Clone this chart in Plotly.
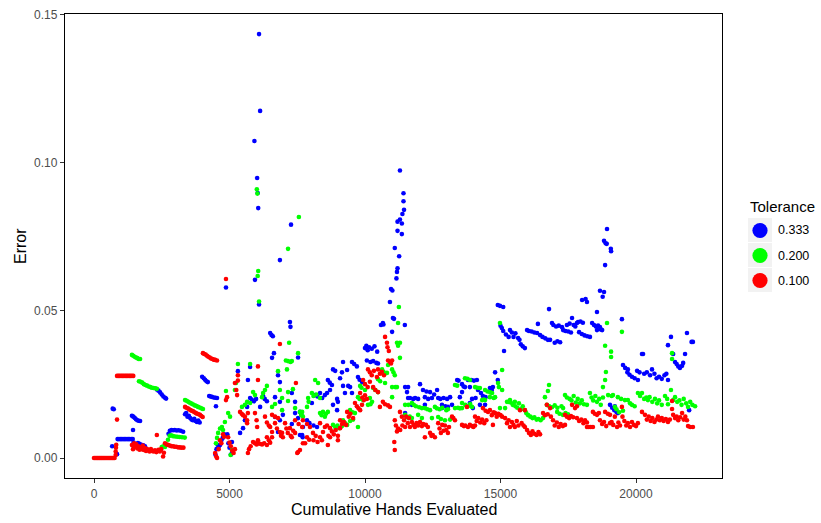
import plotly.graph_objects as go

# Error vs. cumulative hands evaluated, one series per tolerance level.
tolerance_labels = ["0.333", "0.200", "0.100"]
tolerance_colors = ["#0000FF", "#00FF00", "#FF0000"]

tol_333 = [
    (670, 0.0040), (690, 0.0167), (730, 0.0165), (850, 0.0013),
    (870, 0.0064), (920, 0.0064), (970, 0.0064), (1020, 0.0064), (1070, 0.0064), (1120, 0.0064),
    (1170, 0.0064), (1220, 0.0064), (1270, 0.0064), (1320, 0.0064), (1380, 0.0064), (1430, 0.0064),
    (1400, 0.0143), (1450, 0.0140), (1500, 0.0136), (1550, 0.0131), (1600, 0.0128), (1650, 0.0126), (1700, 0.0125),
    (1440, 0.0095), (1460, 0.0052), (1620, 0.0051), (1680, 0.0048), (1750, 0.0045), (1820, 0.0043), (1880, 0.0040),
    (2320, 0.0232), (2380, 0.0228), (2440, 0.0222), (2500, 0.0215), (2560, 0.0208), (2620, 0.0204), (2660, 0.0201),
    (2750, 0.0082), (2800, 0.0092), (2860, 0.0095), (2920, 0.0094), (2980, 0.0095), (3050, 0.0093), (3120, 0.0094),
    (3200, 0.0092), (3290, 0.0089),
    (3360, 0.0148), (3400, 0.0152), (3450, 0.0140), (3500, 0.0143), (3550, 0.0135), (3600, 0.0130), (3650, 0.0128),
    (3700, 0.0133), (3750, 0.0125), (3800, 0.0122), (3850, 0.0127), (3900, 0.0120),
    (3990, 0.0275), (4050, 0.0270), (4100, 0.0265), (4150, 0.0260), (4200, 0.0257),
    (4250, 0.0210), (4300, 0.0208), (4350, 0.0207), (4420, 0.0205), (4480, 0.0204), (4540, 0.0203), (4500, 0.0175),
    (4480, 0.0012), (4520, 0.0030), (4560, 0.0045), (4600, 0.0038), (4650, 0.0044), (4700, 0.0060), (4750, 0.0068),
    (4800, 0.0080), (4850, 0.0077), (4920, 0.0080), (4960, 0.0050), (5000, 0.0035), (5050, 0.0012), (5100, 0.0020),
    (5090, 0.0054), (4870, 0.0577),
    (5310, 0.0294), (5390, 0.0085), (5500, 0.0101), (5570, 0.0128), (5650, 0.0173), (5680, 0.0264), (5760, 0.0308),
    (5760, 0.0203), (5820, 0.0198), (5900, 0.0192), (5980, 0.0200),
    (5920, 0.1073), (5940, 0.0603), (6020, 0.0948), (6040, 0.0897), (6060, 0.0846), (6090, 0.1435), (6130, 0.1175),
    (6090, 0.0520),
    (6130, 0.0173), (6240, 0.0210), (6300, 0.0200), (6380, 0.0192), (6500, 0.0423), (6550, 0.0416), (6600, 0.0412),
    (6570, 0.0339), (6640, 0.0355),
    (6680, 0.0206), (6680, 0.0139), (6790, 0.0280), (6790, 0.0088), (6860, 0.0670), (6860, 0.0257), (6860, 0.0190),
    (6860, 0.0128), (6970, 0.0146),
    (7230, 0.0460), (7250, 0.0444), (7270, 0.0790), (7300, 0.0220), (7300, 0.0115), (7420, 0.0190), (7420, 0.0152),
    (7530, 0.0340), (7530, 0.0135), (7680, 0.0078),
    (7600, 0.0156), (7650, 0.0146), (7600, 0.0078), (7700, 0.0070), (7710, 0.0105), (7860, 0.0128), (7950, 0.0118),
    (8040, 0.0186), (8100, 0.0110), (8230, 0.0105),
    (8160, 0.0213), (8250, 0.0208), (8340, 0.0220), (8420, 0.0203), (8520, 0.0213), (8600, 0.0220), (8630, 0.0264),
    (8700, 0.0255), (8710, 0.0230), (8780, 0.0247),
    (8820, 0.0300), (8820, 0.0180), (8900, 0.0295), (8970, 0.0200), (8970, 0.0162), (9000, 0.0190), (9080, 0.0270),
    (9150, 0.0290), (9190, 0.0325), (9190, 0.0244), (9260, 0.0220), (9340, 0.0298), (9380, 0.0244), (9450, 0.0240),
    (9520, 0.0220), (9520, 0.0325), (9600, 0.0318), (9700, 0.0310),
    (9740, 0.0274), (9800, 0.0265), (9890, 0.0257), (10000, 0.0372), (10050, 0.0380), (10070, 0.0330),
    (10100, 0.0365), (10150, 0.0375), (10200, 0.0325), (10250, 0.0370), (10300, 0.0328), (10350, 0.0378),
    (10420, 0.0322), (10450, 0.0360), (10480, 0.0320),
    (10590, 0.0450), (10660, 0.0457), (10680, 0.0452), (10920, 0.0528), (10960, 0.0572), (11000, 0.0427),
    (11010, 0.0567), (11030, 0.0474), (11070, 0.0471), (11100, 0.0711),
    (11160, 0.0608), (11180, 0.0630), (11200, 0.0642), (11200, 0.0769), (11200, 0.0800), (11260, 0.0683),
    (11290, 0.0973), (11290, 0.0807), (11360, 0.0794), (11360, 0.0758), (11380, 0.0826), (11420, 0.0896),
    (11420, 0.0869), (11440, 0.0840), (11470, 0.0450),
    (11480, 0.0240), (11550, 0.0223), (11590, 0.0240), (11480, 0.0152), (11590, 0.0203), (11660, 0.0203),
    (11730, 0.0180), (11780, 0.0200), (11850, 0.0203), (11960, 0.0200), (12030, 0.0250),
    (12140, 0.0230), (12210, 0.0206), (12210, 0.0180), (12270, 0.0225), (12330, 0.0200), (12400, 0.0223),
    (12470, 0.0203), (12550, 0.0215), (12660, 0.0230), (12700, 0.0203), (12780, 0.0200), (12840, 0.0180),
    (12840, 0.0169), (12900, 0.0203), (12960, 0.0175), (13030, 0.0200), (13060, 0.0173), (13140, 0.0206),
    (13210, 0.0180),
    (13400, 0.0264), (13450, 0.0262), (13500, 0.0206), (13580, 0.0250), (13580, 0.0223), (13640, 0.0242),
    (13690, 0.0240), (13800, 0.0264), (13870, 0.0240), (13870, 0.0186), (13920, 0.0264), (13950, 0.0200),
    (13980, 0.0169), (14020, 0.0262), (14080, 0.0203), (14130, 0.0264), (14170, 0.0230), (14240, 0.0180),
    (14280, 0.0220), (14350, 0.0210), (14430, 0.0180), (14450, 0.0206), (14610, 0.0237), (14680, 0.0230),
    (14720, 0.0240), (14800, 0.0290), (14900, 0.0264),
    (14900, 0.0518), (14980, 0.0515), (15100, 0.0511),
    (15000, 0.0448), (15050, 0.0440), (15100, 0.0430), (15130, 0.0362), (15200, 0.0418), (15300, 0.0410),
    (15350, 0.0433), (15420, 0.0425), (15480, 0.0410), (15550, 0.0422), (15650, 0.0406), (15700, 0.0400),
    (15750, 0.0385), (15820, 0.0378), (15900, 0.0372), (15980, 0.0433), (16050, 0.0430), (16150, 0.0428),
    (16250, 0.0425), (16350, 0.0423), (16380, 0.0454),
    (16460, 0.0416), (16550, 0.0410), (16650, 0.0405), (16750, 0.0400), (16790, 0.0504), (16830, 0.0400),
    (16900, 0.0457), (16950, 0.0450), (17000, 0.0390), (17050, 0.0445), (17100, 0.0395), (17150, 0.0448),
    (17200, 0.0392), (17270, 0.0443),
    (17310, 0.0433), (17400, 0.0430), (17450, 0.0450), (17500, 0.0428), (17550, 0.0455), (17600, 0.0425),
    (17640, 0.0474), (17700, 0.0450), (17760, 0.0445), (17820, 0.0457), (17860, 0.0460), (17900, 0.0426),
    (17950, 0.0462), (18000, 0.0420), (18010, 0.0535), (18040, 0.0458), (18100, 0.0415), (18140, 0.0538),
    (18190, 0.0528), (18200, 0.0412), (18300, 0.0410),
    (18380, 0.0457), (18450, 0.0450), (18520, 0.0445), (18560, 0.0494), (18560, 0.0433), (18600, 0.0448),
    (18670, 0.0443), (18670, 0.0566), (18700, 0.0435), (18750, 0.0433), (18770, 0.0546), (18820, 0.0562),
    (18820, 0.0735), (18860, 0.0653), (18880, 0.0727), (18920, 0.0725), (18930, 0.0775), (19070, 0.0708),
    (19080, 0.0700),
    (19040, 0.0180), (19120, 0.0170), (19200, 0.0162), (19280, 0.0156), (19330, 0.0152), (19220, 0.0175),
    (19480, 0.0470), (19520, 0.0315), (19600, 0.0305), (19680, 0.0290), (19700, 0.0300), (19760, 0.0282),
    (19850, 0.0275), (19950, 0.0270), (20070, 0.0264), (20040, 0.0295), (20130, 0.0290), (20220, 0.0352),
    (20260, 0.0352), (20300, 0.0285), (20400, 0.0290), (20520, 0.0280),
    (20590, 0.0300), (20680, 0.0285), (20760, 0.0270), (20850, 0.0275), (20950, 0.0268), (21050, 0.0280),
    (21120, 0.0285), (21180, 0.0264), (21180, 0.0382), (21290, 0.0410), (21370, 0.0352), (21440, 0.0325),
    (21500, 0.0318), (21560, 0.0310), (21620, 0.0305), (21700, 0.0312), (21740, 0.0322), (21810, 0.0352),
    (21880, 0.0423), (21960, 0.0162), (22050, 0.0393), (22100, 0.0393),
]

tol_200 = [
    (1400, 0.0349), (1450, 0.0346), (1500, 0.0343), (1550, 0.0340), (1600, 0.0338), (1650, 0.0335), (1700, 0.0335),
    (1660, 0.0260), (1720, 0.0258), (1780, 0.0255), (1840, 0.0250), (1900, 0.0247), (1960, 0.0245), (2020, 0.0242),
    (2080, 0.0240), (2140, 0.0238), (2200, 0.0237), (2260, 0.0236), (2320, 0.0234),
    (2500, 0.0037), (2560, 0.0040), (2620, 0.0037),
    (2730, 0.0062), (2790, 0.0075), (2850, 0.0077), (2920, 0.0074), (3000, 0.0073), (3080, 0.0072), (3160, 0.0071),
    (3250, 0.0070), (3350, 0.0069),
    (3360, 0.0196), (3420, 0.0194), (3480, 0.0190), (3540, 0.0187), (3600, 0.0184), (3660, 0.0181), (3720, 0.0178),
    (3780, 0.0176), (3840, 0.0173), (3900, 0.0171), (3960, 0.0168), (4020, 0.0166),
    (4500, 0.0050), (4540, 0.0068), (4580, 0.0085), (4650, 0.0100), (4720, 0.0105), (4760, 0.0095), (4830, 0.0122),
    (4870, 0.0227), (4950, 0.0152), (5020, 0.0140), (5090, 0.0027), (5040, 0.0010),
    (5200, 0.0230), (5240, 0.0254), (5310, 0.0318), (5460, 0.0173), (5570, 0.0180), (5650, 0.0190), (5760, 0.0318),
    (5760, 0.0186), (5870, 0.0223), (5940, 0.0213),
    (6010, 0.0910), (6030, 0.0895), (6060, 0.0633), (6040, 0.0616), (6090, 0.0530),
    (6200, 0.0206), (6240, 0.0220), (6310, 0.0230), (6380, 0.0244), (6570, 0.0173), (6680, 0.0183), (6790, 0.0294),
    (6860, 0.0230), (6940, 0.0203), (6940, 0.0162),
    (7080, 0.0330), (7120, 0.0300), (7160, 0.0328), (7160, 0.0708), (7160, 0.0223), (7160, 0.0193), (7200, 0.0390),
    (7250, 0.0325), (7300, 0.0328), (7340, 0.0233), (7420, 0.0169), (7530, 0.0355), (7560, 0.0816), (7680, 0.0156),
    (7600, 0.0156), (7650, 0.0145), (7710, 0.0140), (7860, 0.0173), (7900, 0.0203), (7920, 0.0190), (8040, 0.0220),
    (8100, 0.0210), (8160, 0.0264), (8200, 0.0215), (8270, 0.0254), (8340, 0.0203), (8340, 0.0152), (8400, 0.0145),
    (8450, 0.0156), (8520, 0.0140), (8560, 0.0150), (8630, 0.0156),
    (8820, 0.0112), (8900, 0.0105), (8980, 0.0110), (9050, 0.0101), (9150, 0.0108), (9190, 0.0128), (9260, 0.0118),
    (9340, 0.0112), (9450, 0.0125), (9450, 0.0162), (9540, 0.0155), (9560, 0.0130), (9630, 0.0152), (9740, 0.0105),
    (9740, 0.0206), (9800, 0.0200), (9820, 0.0244), (9870, 0.0238), (9930, 0.0196), (10000, 0.0230),
    (10110, 0.0180), (10180, 0.0203), (10200, 0.0182), (10260, 0.0190), (10300, 0.0237), (10380, 0.0230),
    (10480, 0.0223), (10480, 0.0267), (10560, 0.0260), (10630, 0.0300), (10680, 0.0292), (10740, 0.0254),
    (10810, 0.0288), (10850, 0.0315),
    (11000, 0.0300), (11000, 0.0240), (11000, 0.0206), (11050, 0.0290), (11100, 0.0280), (11120, 0.0240),
    (11180, 0.0390), (11180, 0.0240), (11220, 0.0380), (11220, 0.0457), (11250, 0.0511), (11290, 0.0390),
    (11290, 0.0339),
    (11480, 0.0146), (11480, 0.0180), (11550, 0.0138), (11600, 0.0180), (11650, 0.0140), (11730, 0.0135),
    (11730, 0.0186), (11800, 0.0180), (11880, 0.0175), (11960, 0.0146), (12000, 0.0172), (12100, 0.0169),
    (12100, 0.0135),
    (12210, 0.0169), (12300, 0.0165), (12400, 0.0162), (12470, 0.0135), (12580, 0.0173), (12650, 0.0168),
    (12700, 0.0139), (12750, 0.0165), (12800, 0.0132), (12850, 0.0170), (12950, 0.0128), (13000, 0.0162),
    (13060, 0.0165), (13140, 0.0130),
    (13320, 0.0247), (13320, 0.0169), (13400, 0.0245), (13430, 0.0170), (13500, 0.0168), (13580, 0.0186),
    (13580, 0.0169), (13690, 0.0270), (13700, 0.0180), (13780, 0.0268), (13800, 0.0175), (13870, 0.0264),
    (13880, 0.0183), (13950, 0.0173),
    (14060, 0.0240), (14150, 0.0238), (14240, 0.0237), (14320, 0.0196), (14380, 0.0198), (14430, 0.0230),
    (14430, 0.0196), (14520, 0.0225), (14610, 0.0206), (14620, 0.0222), (14690, 0.0220), (14750, 0.0203),
    (14800, 0.0206), (14910, 0.0254), (14940, 0.0240), (14980, 0.0457), (14980, 0.0169), (15060, 0.0298),
    (15060, 0.0230), (15170, 0.0169),
    (15240, 0.0190), (15300, 0.0190), (15350, 0.0196), (15380, 0.0188), (15450, 0.0180), (15530, 0.0190),
    (15550, 0.0175), (15620, 0.0170), (15680, 0.0185), (15750, 0.0165), (15820, 0.0175), (15900, 0.0162),
    (15950, 0.0152), (16020, 0.0145), (16100, 0.0140), (16180, 0.0135), (16250, 0.0138), (16330, 0.0130),
    (16400, 0.0132), (16480, 0.0128), (16570, 0.0135),
    (16640, 0.0206), (16710, 0.0180), (16750, 0.0227), (16790, 0.0247), (16800, 0.0175), (16900, 0.0172),
    (17000, 0.0178), (17100, 0.0170), (17090, 0.0156), (17180, 0.0150), (17250, 0.0175), (17300, 0.0146),
    (17310, 0.0169), (17400, 0.0152), (17490, 0.0148),
    (17380, 0.0213), (17450, 0.0205), (17550, 0.0200), (17620, 0.0195), (17700, 0.0210), (17780, 0.0188),
    (17850, 0.0200), (17930, 0.0185), (18000, 0.0195), (18080, 0.0182), (18190, 0.0180),
    (18300, 0.0220), (18360, 0.0205), (18420, 0.0195), (18500, 0.0210), (18560, 0.0190), (18640, 0.0200),
    (18700, 0.0180), (18780, 0.0240), (18780, 0.0205), (18860, 0.0264), (18860, 0.0380), (18890, 0.0291),
    (18930, 0.0457), (18970, 0.0213), (19080, 0.0360), (19080, 0.0342), (19100, 0.0210), (19150, 0.0213),
    (19220, 0.0173), (19280, 0.0165), (19330, 0.0206), (19380, 0.0155), (19450, 0.0200), (19480, 0.0427),
    (19520, 0.0160), (19590, 0.0196),
    (19700, 0.0196), (19780, 0.0185), (19850, 0.0180), (19950, 0.0175), (20070, 0.0220), (20150, 0.0210),
    (20220, 0.0220), (20300, 0.0200), (20380, 0.0205), (20440, 0.0196),
    (20500, 0.0206), (20600, 0.0190), (20700, 0.0200), (20780, 0.0185), (20850, 0.0195), (20950, 0.0180),
    (21070, 0.0210), (21150, 0.0200), (21180, 0.0182), (21290, 0.0230), (21330, 0.0355), (21330, 0.0335),
    (21370, 0.0196),
    (21440, 0.0206), (21520, 0.0190), (21600, 0.0195), (21680, 0.0180), (21760, 0.0200), (21850, 0.0185),
    (21920, 0.0173), (22000, 0.0190), (22080, 0.0180), (22180, 0.0175),
]

tol_100 = [
    (0, 0.0), (40, 0.0), (80, 0.0), (120, 0.0), (160, 0.0), (200, 0.0), (240, 0.0), (280, 0.0), (320, 0.0),
    (360, 0.0), (400, 0.0), (440, 0.0), (480, 0.0), (520, 0.0), (560, 0.0), (600, 0.0), (640, 0.0), (680, 0.0),
    (720, 0.0), (760, 0.0),
    (800, 0.0010), (800, 0.0022), (810, 0.0035), (820, 0.0045), (850, 0.0130),
    (850, 0.0278), (900, 0.0278), (950, 0.0278), (1000, 0.0278), (1050, 0.0278), (1100, 0.0278), (1150, 0.0278),
    (1200, 0.0278), (1250, 0.0278), (1300, 0.0278), (1350, 0.0278), (1400, 0.0278), (1450, 0.0278),
    (1400, 0.0044), (1440, 0.0030), (1480, 0.0050), (1520, 0.0038), (1560, 0.0046), (1600, 0.0032), (1640, 0.0040),
    (1680, 0.0028), (1720, 0.0036), (1760, 0.0030), (1800, 0.0042), (1840, 0.0027), (1880, 0.0034), (1920, 0.0024),
    (1960, 0.0030), (2000, 0.0026), (2050, 0.0022), (2100, 0.0030), (2150, 0.0024), (2200, 0.0022), (2250, 0.0026),
    (2300, 0.0020), (2320, 0.0078), (2380, 0.0028), (2430, 0.0022), (2480, 0.0030), (2550, 0.0005), (2580, 0.0018),
    (2620, 0.0050), (2680, 0.0046), (2740, 0.0044), (2800, 0.0042), (2860, 0.0040), (2920, 0.0040), (2980, 0.0038),
    (3040, 0.0038), (3100, 0.0036), (3160, 0.0036), (3220, 0.0035), (3300, 0.0035),
    (3360, 0.0173), (3410, 0.0170), (3460, 0.0168), (3510, 0.0165), (3560, 0.0162), (3610, 0.0160), (3660, 0.0158),
    (3710, 0.0155), (3760, 0.0152), (3810, 0.0150), (3860, 0.0148), (3910, 0.0146), (3960, 0.0142), (4010, 0.0139),
    (4020, 0.0355), (4070, 0.0352), (4120, 0.0350), (4170, 0.0346), (4220, 0.0343), (4270, 0.0340), (4320, 0.0337),
    (4370, 0.0335), (4420, 0.0333), (4470, 0.0332), (4540, 0.0330),
    (4470, 0.0017), (4510, 0.0005), (4540, 0.0000), (4600, 0.0030), (4650, 0.0060), (4700, 0.0050), (4760, 0.0080),
    (4800, 0.0072), (4870, 0.0606), (4870, 0.0196), (4910, 0.0206), (4950, 0.0070), (5000, 0.0052), (5050, 0.0040),
    (5100, 0.0025), (5150, 0.0017), (5200, 0.0030),
    (5200, 0.0254), (5250, 0.0230), (5280, 0.0213), (5310, 0.0280), (5310, 0.0262), (5390, 0.0156), (5450, 0.0150),
    (5500, 0.0145), (5570, 0.0140), (5650, 0.0128), (5650, 0.0118), (5680, 0.0152),
    (5680, 0.0017), (5720, 0.0030), (5780, 0.0040), (5870, 0.0054), (5940, 0.0050), (6000, 0.0046), (6050, 0.0060),
    (6050, 0.0050), (6120, 0.0048), (6200, 0.0046), (6280, 0.0050), (6380, 0.0044), (6380, 0.0070), (6450, 0.0060),
    (6500, 0.0052), (6570, 0.0070),
    (5940, 0.0152), (6000, 0.0128), (6020, 0.0105), (6050, 0.0310), (6050, 0.0264), (6310, 0.0140), (6380, 0.0120),
    (6450, 0.0110), (6500, 0.0105), (6570, 0.0088), (6570, 0.0146), (6680, 0.0140), (6680, 0.0118), (6750, 0.0100),
    (6790, 0.0135), (6860, 0.0386), (6860, 0.0088), (6900, 0.0075), (6940, 0.0085), (6970, 0.0070),
    (7050, 0.0118), (7100, 0.0100), (7150, 0.0085), (7230, 0.0101), (7260, 0.0075), (7300, 0.0070), (7350, 0.0092),
    (7420, 0.0085), (7420, 0.0128), (7450, 0.0254), (7500, 0.0017), (7530, 0.0020), (7550, 0.0115), (7680, 0.0105),
    (7600, 0.0027), (7710, 0.0050), (7710, 0.0128), (7790, 0.0050), (7860, 0.0070), (7860, 0.0115), (7940, 0.0062),
    (7970, 0.0105), (8080, 0.0085), (8100, 0.0060), (8180, 0.0075), (8250, 0.0054), (8340, 0.0118), (8340, 0.0070),
    (8410, 0.0060), (8450, 0.0088), (8520, 0.0105), (8600, 0.0110), (8630, 0.0044), (8650, 0.0075), (8710, 0.0070),
    (8710, 0.0101), (8780, 0.0090), (8850, 0.0080), (8920, 0.0095), (9000, 0.0060), (9000, 0.0075), (9080, 0.0101),
    (9080, 0.0128), (9150, 0.0115), (9220, 0.0122), (9300, 0.0112), (9340, 0.0156), (9400, 0.0140), (9460, 0.0150),
    (9560, 0.0135),
    (9630, 0.0186), (9700, 0.0175), (9760, 0.0168), (9820, 0.0162), (9890, 0.0180), (9820, 0.0220), (9900, 0.0205),
    (9960, 0.0196), (10000, 0.0212), (10070, 0.0200), (9930, 0.0264), (10000, 0.0250), (10100, 0.0240),
    (10180, 0.0258),
    (10110, 0.0300), (10180, 0.0290), (10250, 0.0280), (10300, 0.0240), (10330, 0.0295), (10380, 0.0230),
    (10440, 0.0274), (10480, 0.0300), (10480, 0.0223), (10550, 0.0173), (10550, 0.0285), (10620, 0.0292),
    (10660, 0.0190), (10700, 0.0280), (10740, 0.0410), (10740, 0.0182), (10810, 0.0390), (10830, 0.0375),
    (10850, 0.0330), (10850, 0.0178), (10880, 0.0362), (10920, 0.0173), (10920, 0.0325), (10960, 0.0320),
    (11000, 0.0330),
    (11080, 0.0054), (11100, 0.0027), (11100, 0.0128), (11140, 0.0110), (11180, 0.0090), (11220, 0.0100),
    (11290, 0.0156), (11300, 0.0095), (11360, 0.0140), (11380, 0.0110), (11440, 0.0128), (11480, 0.0105),
    (11520, 0.0140), (11580, 0.0118), (11620, 0.0135), (11660, 0.0105),
    (11730, 0.0122), (11790, 0.0112), (11840, 0.0105), (11900, 0.0118), (11960, 0.0110), (12030, 0.0122),
    (12100, 0.0108), (12150, 0.0115), (12210, 0.0070), (12250, 0.0112), (12320, 0.0105), (12400, 0.0085),
    (12450, 0.0075), (12500, 0.0078), (12580, 0.0070),
    (12700, 0.0118), (12750, 0.0100), (12800, 0.0085), (12850, 0.0112), (12900, 0.0092), (12950, 0.0110),
    (13000, 0.0095), (13060, 0.0085), (13100, 0.0105), (13210, 0.0140), (13260, 0.0135), (13320, 0.0128),
    (13580, 0.0112), (13650, 0.0108), (13700, 0.0110), (13760, 0.0173), (13800, 0.0105), (13870, 0.0112),
    (13950, 0.0108), (14000, 0.0105), (14060, 0.0110),
    (14060, 0.0140), (14120, 0.0125), (14180, 0.0135), (14250, 0.0120), (14320, 0.0130), (14350, 0.0169),
    (14400, 0.0118), (14450, 0.0160), (14480, 0.0128), (14540, 0.0156),
    (14610, 0.0162), (14680, 0.0145), (14720, 0.0112), (14750, 0.0155), (14800, 0.0152), (14860, 0.0140),
    (14920, 0.0150), (15000, 0.0145), (15060, 0.0140),
    (15170, 0.0135), (15240, 0.0118), (15300, 0.0128), (15350, 0.0105), (15420, 0.0122), (15480, 0.0112),
    (15530, 0.0105), (15600, 0.0125), (15660, 0.0110), (15720, 0.0162), (15780, 0.0118), (15850, 0.0110),
    (15900, 0.0162), (15900, 0.0105),
    (15980, 0.0095), (16050, 0.0085), (16120, 0.0078), (16180, 0.0090), (16250, 0.0082), (16330, 0.0078),
    (16400, 0.0088), (16460, 0.0080),
    (16570, 0.0152), (16640, 0.0145), (16710, 0.0180), (16740, 0.0148), (16830, 0.0169), (16860, 0.0140),
    (16940, 0.0128), (17000, 0.0110), (17080, 0.0120), (17150, 0.0105), (17220, 0.0115), (17300, 0.0108),
    (17380, 0.0146), (17380, 0.0112),
    (17450, 0.0140), (17530, 0.0135), (17600, 0.0142), (17640, 0.0180), (17680, 0.0138), (17750, 0.0169),
    (17820, 0.0175), (17820, 0.0135), (17900, 0.0125), (17980, 0.0130), (18060, 0.0118), (18120, 0.0128),
    (18190, 0.0120), (18190, 0.0105), (18260, 0.0105), (18330, 0.0105), (18410, 0.0105),
    (18410, 0.0156), (18480, 0.0150), (18560, 0.0146), (18630, 0.0152), (18670, 0.0128), (18750, 0.0115),
    (18820, 0.0122), (18860, 0.0156), (18900, 0.0108), (18960, 0.0150), (19040, 0.0146), (19040, 0.0118),
    (19100, 0.0122), (19160, 0.0112), (19220, 0.0140), (19300, 0.0105), (19350, 0.0120), (19410, 0.0110),
    (19480, 0.0173), (19500, 0.0140), (19570, 0.0125), (19640, 0.0110), (19700, 0.0118), (19780, 0.0105),
    (19850, 0.0122), (19920, 0.0112), (20000, 0.0108), (20070, 0.0118),
    (20220, 0.0156), (20330, 0.0146), (20400, 0.0130), (20470, 0.0140), (20540, 0.0125), (20600, 0.0135),
    (20680, 0.0122), (20750, 0.0130), (20810, 0.0140), (20880, 0.0128), (20950, 0.0135), (21020, 0.0125),
    (21100, 0.0132), (21180, 0.0122), (21250, 0.0130),
    (21330, 0.0166), (21330, 0.0193), (21370, 0.0146), (21440, 0.0135), (21500, 0.0140), (21560, 0.0128),
    (21630, 0.0138), (21700, 0.0152), (21760, 0.0130), (21820, 0.0140), (21880, 0.0128), (21920, 0.0108),
    (22000, 0.0105), (22100, 0.0105),
]

x_ticks = [0, 5000, 10000, 15000, 20000]
y_ticks = [0.00, 0.05, 0.10, 0.15]

series = [tol_333, tol_200, tol_100]

fig = go.Figure()
for label, color, pts in zip(tolerance_labels, tolerance_colors, series):
    fig.add_trace(go.Scatter(
        x=[p[0] for p in pts],
        y=[p[1] for p in pts],
        mode="markers",
        name=label,
        marker=dict(color=color, size=4.6, line=dict(width=0)),
        showlegend=False,
    ))

W, H = 821, 523
L, R, T, B = 65, 722, 14, 478
pw, ph = R - L, B - T


def px_x(px):
    return (px - L) / pw


def px_y(py):
    return (B - py) / ph


font = "Liberation Sans, Arial, sans-serif"
shapes = []
annotations = []

# Hand-built legend block to the right of the panel
annotations.append(dict(
    text="Tolerance", x=px_x(748), y=px_y(206), xref="paper", yref="paper",
    xanchor="left", yanchor="middle", showarrow=False,
    font=dict(family=font, size=15, color="black"),
))
key_tops = [218, 243, 268]
for top, label, color in zip(key_tops, tolerance_labels, tolerance_colors):
    shapes.append(dict(
        type="rect", xref="paper", yref="paper",
        x0=px_x(748), x1=px_x(772), y0=px_y(top + 24), y1=px_y(top),
        fillcolor="#F2F2F2", line=dict(width=0), layer="below",
    ))
    cy = top + 12.5
    shapes.append(dict(
        type="circle", xref="paper", yref="paper",
        x0=px_x(760 - 7.6), x1=px_x(760 + 7.6), y0=px_y(cy + 7.6), y1=px_y(cy - 7.6),
        fillcolor=color, line=dict(width=0),
    ))
    annotations.append(dict(
        text=label, x=px_x(776), y=px_y(cy), xref="paper", yref="paper",
        xanchor="left", yanchor="middle", showarrow=False,
        font=dict(family=font, size=12.5, color="black"),
    ))

# Axis titles placed as annotations so the panel keeps its exact size
annotations.append(dict(
    text="Cumulative Hands Evaluated", x=0.5, y=px_y(510), xref="paper", yref="paper",
    xanchor="center", yanchor="middle", showarrow=False,
    font=dict(family=font, size=16, color="black"),
))
annotations.append(dict(
    text="Error", x=px_x(20), y=0.5, xref="paper", yref="paper", textangle=-90,
    xanchor="center", yanchor="middle", showarrow=False,
    font=dict(family=font, size=16, color="black"),
))

axis_common = dict(
    showgrid=False, zeroline=False, showline=True, mirror=True,
    linecolor="black", linewidth=1.4,
    ticks="outside", ticklen=4, tickwidth=1, tickcolor="#333333",
    tickfont=dict(family=font, size=12, color="#4D4D4D"),
    automargin=False,
)

fig.update_layout(
    width=W, height=H,
    margin=dict(l=L, r=W - R, t=T, b=H - B),
    paper_bgcolor="white", plot_bgcolor="white",
    xaxis=dict(
        range=[-1070, 23173], tickvals=x_ticks, ticktext=[str(v) for v in x_ticks],
        **axis_common,
    ),
    yaxis=dict(
        range=[-0.00677, 0.1503], tickvals=y_ticks, ticktext=[f"{v:.2f}" for v in y_ticks],
        **axis_common,
    ),
    shapes=shapes,
    annotations=annotations,
    showlegend=False,
)

fig.write_html("out.html")
